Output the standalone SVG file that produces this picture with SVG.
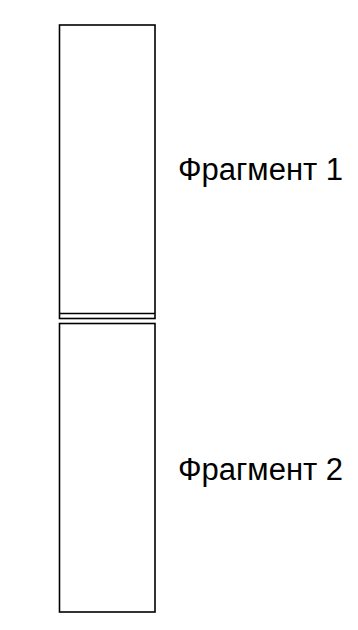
<svg xmlns="http://www.w3.org/2000/svg" width="358" height="630" viewBox="0 0 358 630">
<style>
.b{fill:none;stroke:#000;stroke-width:1.6}
.t{font-family:"Liberation Sans",Arial,sans-serif;font-size:31px;fill:#000}
</style>
<rect width="358" height="630" fill="#fff"/>
<g id="fragment1">
<rect class="b" x="59.5" y="25" width="95.5" height="293.5"/>
<text class="t" x="178" y="180">Фрагмент 1</text>
</g>
<g id="joint">
<line class="b" x1="59.5" y1="313.5" x2="155" y2="313.5"/>
</g>
<g id="fragment2">
<rect class="b" x="59.5" y="323.5" width="95.5" height="288.5"/>
<text class="t" x="178" y="480">Фрагмент 2</text>
</g>
</svg>
